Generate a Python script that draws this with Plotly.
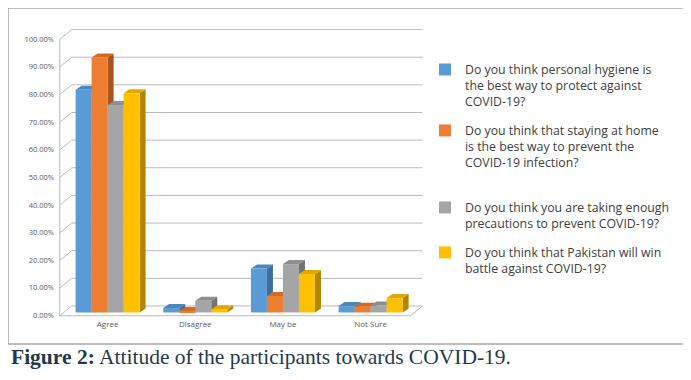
import plotly.graph_objects as go

# ---------------- data ----------------
categories = ["Agree", "Disagree", "May be", "Not Sure"]
series_names = [
    "Do you think personal hygiene is<br>the best way to protect against<br>COVID-19?",
    "Do you think that staying at home<br>is the best way to prevent the<br>COVID-19 infection?<br> ",
    "Do you think you are taking enough<br>precautions to prevent COVID-19?",
    "Do you think that Pakistan will win<br>battle against COVID-19?",
]
hygiene = [80.6, 1.6, 15.9, 2.3]
stay_home = [92.2, 0.5, 6.0, 2.1]
precautions = [75.1, 4.2, 17.5, 2.5]
pakistan_win = [79.3, 1.2, 13.9, 5.2]
tick_values = [0, 10, 20, 30, 40, 50, 60, 70, 80, 90, 100]
tick_labels = ["0.00%", "10.00%", "20.00%", "30.00%", "40.00%", "50.00%",
               "60.00%", "70.00%", "80.00%", "90.00%", "100.00%"]
caption = "<b>Figure 2:</b> Attitude of the participants towards COVID-19."

# ---------------- styles ----------------
front_colors = ["#5B9BD5", "#ED7D31", "#A5A5A5", "#FFC000"]
top_colors = ["#4A86C0", "#D06A24", "#8E8E8E", "#E0A800"]
side_colors = ["#3E6E9E", "#A9541C", "#737373", "#B38600"]

OFF = 8  # page body margin
W, H = 691 - OFF, 380 - OFF
ML, MR, MT, MB = 55 - OFF, 259, 25 - OFF, 62
XR = [-0.6, 3.7]
YR = [-2, 104]
plot_w = W - ML - MR
plot_h = H - MT - MB
px_x = (XR[1] - XR[0]) / plot_w   # data units per pixel (x)
px_y = (YR[1] - YR[0]) / plot_h   # data units per pixel (y)


def paper_x(px):
    return (px - OFF - ML) / plot_w


def paper_y(py):
    return (H - MB - (py - OFF)) / plot_h


bargap = 0.27
n_series = 4
bw = (1 - bargap) / n_series
depth_dx, depth_dy = 6, 4          # bar depth in px
back_dx, back_dy = 8, 6.5          # back wall offset in px
front_dx, front_dy = -4, -3.3      # front plane offset in px
grid_color = "#BABABA"

values = [hygiene, stay_home, precautions, pakistan_win]

fig = go.Figure()
for i, (name, vals) in enumerate(zip(series_names, values)):
    fig.add_trace(go.Bar(
        x=list(range(len(categories))), y=vals, name=name,
        marker=dict(color=front_colors[i], line=dict(width=0)),
        legendgroup=f"g{i}",
    ))

shapes = []
for v in tick_values:
    yb = v + back_dy * px_y
    yf = v + front_dy * px_y
    xb0 = -0.5 + back_dx * px_x
    xb1 = 3.5 + back_dx * px_x
    xf = -0.5 + front_dx * px_x
    shapes.append(dict(type="line", xref="x", yref="y", x0=xb0, x1=xb1, y0=yb, y1=yb,
                       line=dict(color=grid_color, width=1), layer="below"))
    shapes.append(dict(type="line", xref="x", yref="y", x0=xf, x1=xb0, y0=yf, y1=yb,
                       line=dict(color=grid_color, width=1), layer="below"))
xf = -0.5 + front_dx * px_x
shapes.append(dict(type="line", xref="x", yref="y", x0=xf, x1=xf,
                   y0=front_dy * px_y, y1=100 + front_dy * px_y,
                   line=dict(color=grid_color, width=1), layer="below"))
xfr = 3.5 + front_dx * px_x
shapes.append(dict(type="path", xref="x", yref="y",
                   path=f"M{xf},{front_dy*px_y} L{xfr},{front_dy*px_y} L{3.5+back_dx*px_x},{back_dy*px_y}",
                   line=dict(color=grid_color, width=1), layer="below"))

ddx = depth_dx * px_x
ddy = depth_dy * px_y
for j in range(len(categories)):
    for i in range(n_series):
        v = values[i][j]
        center = j - (1 - bargap) / 2 + (i + 0.5) * bw
        x0 = center - bw / 2
        x1 = center + bw / 2
        shapes.append(dict(type="path", xref="x", yref="y",
                           path=f"M{x1},0 L{x1+ddx},{ddy} L{x1+ddx},{v+ddy} L{x1},{v} Z",
                           fillcolor=side_colors[i], line=dict(width=0), layer="below"))
        shapes.append(dict(type="path", xref="x", yref="y",
                           path=f"M{x0},{v} L{x1},{v} L{x1+ddx},{v+ddy} L{x0+ddx},{v+ddy} Z",
                           fillcolor=top_colors[i], line=dict(width=0), layer="below"))

shapes.append(dict(type="rect", xref="paper", yref="paper",
                   x0=paper_x(8), x1=paper_x(686),
                   y0=paper_y(344), y1=paper_y(8),
                   line=dict(color="#A6A6A6", width=1.5), layer="below"))

fig.update_layout(
    width=W, height=H,
    margin=dict(l=ML, r=MR, t=MT, b=MB, autoexpand=False),
    paper_bgcolor="white", plot_bgcolor="rgba(0,0,0,0)",
    barmode="group", bargap=bargap, bargroupgap=0,
    showlegend=True,
    legend=dict(
        x=paper_x(425), y=paper_y(55),
        xanchor="left", yanchor="top", valign="top",
        font=dict(family="Open Sans", size=12.3, color="#404040"),
        tracegroupgap=10, bgcolor="rgba(0,0,0,0)",
    ),
    shapes=shapes,
    annotations=[dict(
        text=caption, xref="paper", yref="paper",
        x=paper_x(9), y=paper_y(357),
        xanchor="left", yanchor="middle", showarrow=False,
        font=dict(family="Liberation Serif", size=21.5, color="#1F3A4D"),
    )],
)
fig.update_xaxes(
    range=XR, tickvals=list(range(len(categories))), ticktext=categories,
    showgrid=False, zeroline=False, showline=False, ticks="",
    tickfont=dict(family="Open Sans", size=8, color="#595959"),
)
fig.update_yaxes(
    range=YR, tickvals=tick_values, ticktext=tick_labels,
    showgrid=False, zeroline=False, showline=False, ticks="",
    ticklabelshift=3, ticklabelstandoff=0,
    tickfont=dict(family="Open Sans", size=7.5, color="#595959"),
)

fig.write_html("out.html")
